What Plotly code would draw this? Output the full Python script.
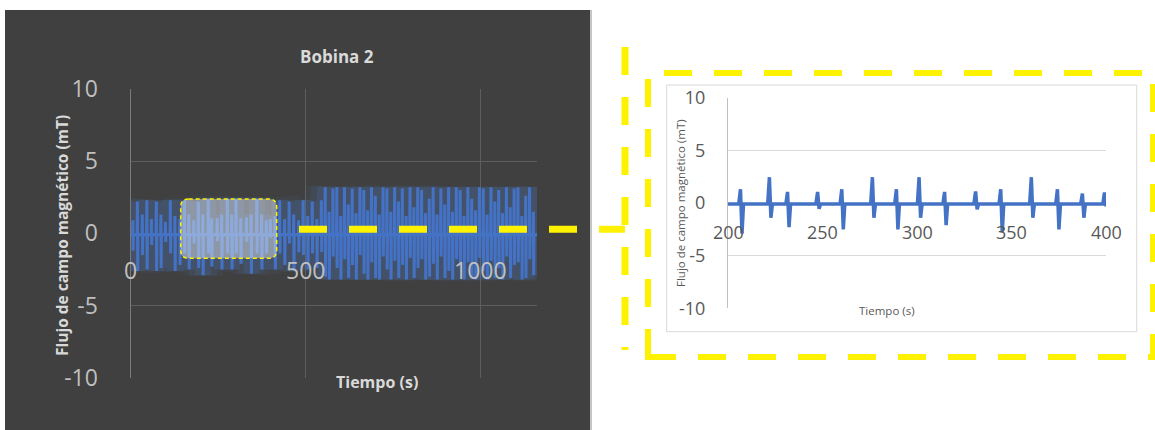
import plotly.graph_objects as go

W, H = 1155, 430

# ---------------- data ----------------
spike_time = [
    7, 20, 34, 47, 60, 74, 87, 100, 114, 127, 141, 154, 167, 181, 194,
    206.9, 222.2, 231.8, 247.7, 260.5, 276.7, 289.4, 301.4, 314.9, 331.3,
    344.6, 360.8, 374.6, 387.8, 399.5,
    413, 426, 440, 453, 466, 480, 493, 506, 519, 532, 545,
    556, 567, 578, 589, 600, 611, 622, 633, 644, 655, 666, 677, 688, 699,
    710, 721, 732, 743, 754, 765, 776, 787, 798, 809, 820, 831, 842, 853,
    864, 875, 886, 897, 908, 919, 930, 941, 952, 963, 974, 985, 996, 1007,
    1018, 1029, 1040, 1051, 1062, 1073, 1084, 1095, 1106, 1117, 1128,
    1139, 1150,
]
spike_peak = [
    0.9, 2.2, 1.3, 2.3, 1.0, 2.2, 1.3, 0.8, 2.3, 1.2, 1.0, 2.3, 1.3, 0.9, 2.2,
    1.3, 2.45, 1.05, 1.05, 1.3, 2.45, 1.3, 2.45, 1.05, 1.1, 1.3, 2.45, 1.3,
    0.9, 1.0,
    1.2, 2.3, 1.0, 2.2, 1.3, 0.9, 2.3, 1.2, 2.2, 1.0, 2.3,
    3.2, 1.5, 3.1, 3.2, 1.2, 3.2, 2.0, 3.1, 1.4, 3.2, 3.0, 1.6, 3.2, 2.6,
    1.3, 3.2, 3.1, 1.5, 3.2, 2.2, 3.1, 1.2, 3.2, 1.8, 3.2, 3.0, 1.4, 2.4,
    3.2, 1.3, 3.1, 2.0, 3.2, 1.5, 3.2, 3.0, 1.2, 3.2, 2.4, 1.6, 3.2, 3.1,
    1.3, 3.2, 2.2, 3.0, 1.4, 3.2, 1.8, 3.1, 3.2, 1.2, 2.6, 3.2, 1.5,
]
spike_trough = [
    -1.2, -2.6, -1.5, -2.5, -0.8, -2.6, -2.4, -0.6, -1.4, -2.6, -2.2, -1.4,
    -2.5, -0.7, -2.4,
    -2.9, -1.4, -2.3, -0.55, -2.5, -1.4, -2.5, -1.4, -2.1, -0.6, -2.8, -1.4,
    -2.5, -1.4, -0.3,
    -2.5, -1.4, -2.2, -0.7, -2.6, -1.3, -1.5, -2.5, -1.4, -2.4, -1.3,
    -3.0, -3.2, -1.6, -2.4, -3.2, -1.8, -3.1, -2.2, -3.2, -1.5, -2.8, -3.2,
    -2.0, -3.1, -3.2, -1.6, -2.5, -3.2, -1.9, -3.1, -2.2, -3.2, -1.7, -3.1,
    -2.4, -1.8, -3.2, -3.0, -2.1, -3.2, -1.6, -3.1, -2.6, -3.2, -1.8, -2.3,
    -3.2, -2.0, -3.1, -3.2, -1.7, -2.6, -3.2, -1.9, -3.1, -2.4, -3.2, -1.6,
    -3.1, -2.2, -2.0, -3.2, -3.1, -1.8, -2.9,
]
baseline_level = -0.1
record_end = 1160

main_title = "Bobina 2"
y_title = "Flujo de campo magnético (mT)"
x_title = "Tiempo (s)"
y_ticks = [-10, -5, 0, 5, 10]
main_x_ticks = [0, 500, 1000]
zoom_x_ticks = [200, 250, 300, 350, 400]
main_x_range = [0, 1160]
zoom_x_range = [200, 400]
y_range = [-10, 10]

assert len(spike_time) == len(spike_peak) == len(spike_trough)

# ---------------- helpers ----------------
def px(x):
    return x / W


def py(y):
    return 1 - y / H


# bipolar pulse shape around each recorded spike
xs, ys = [0], [baseline_level]
for t, p, q in zip(spike_time, spike_peak, spike_trough):
    xs += [t - 1.2, t - 0.3, t + 0.5, t + 1.3]
    ys += [baseline_level, p, q, baseline_level]
xs.append(record_end)
ys.append(baseline_level)

BLUE = "#4472C4"
YEL = "#fff200"
FONT = "Open Sans"

fig = go.Figure()
# soft glow of the main series
for w, a in [(40, 0.07), (28, 0.10), (16, 0.16)]:
    fig.add_trace(go.Scatter(x=xs, y=ys, mode="lines", xaxis="x", yaxis="y",
                             line=dict(color=f"rgba(80,125,205,{a})", width=w),
                             hoverinfo="skip"))
fig.add_trace(go.Scatter(x=xs, y=ys, mode="lines", xaxis="x", yaxis="y",
                         line=dict(color=BLUE, width=3)))
# zoomed view
fig.add_trace(go.Scatter(x=xs, y=ys, mode="lines", xaxis="x2", yaxis="y2",
                         line=dict(color=BLUE, width=3.5)))

fig.update_layout(
    width=W, height=H, autosize=False,
    margin=dict(l=0, r=0, t=0, b=0, pad=0, autoexpand=False),
    paper_bgcolor="white", plot_bgcolor="rgba(0,0,0,0)",
    showlegend=False,
    font=dict(family=FONT),
    xaxis=dict(domain=[px(130.5), px(537)], range=main_x_range,
               tickvals=main_x_ticks, showticklabels=False,
               showgrid=True, gridcolor="#5e5e5e", gridwidth=1,
               zeroline=False, showline=False, anchor="y", fixedrange=True,
               automargin=False),
    yaxis=dict(domain=[py(377.7), py(89)], range=y_range,
               tickvals=y_ticks, ticktext=[str(v) for v in y_ticks],
               tickfont=dict(size=23, color="#bfbfbf", family=FONT),
               ticklabelstandoff=27,
               showgrid=True, gridcolor="#5e5e5e", gridwidth=1,
               zeroline=False, showline=True, linecolor="#7a7a7a",
               anchor="x", fixedrange=True, automargin=False),
    xaxis2=dict(domain=[px(728), px(1106)], range=zoom_x_range,
                tickvals=zoom_x_ticks, showticklabels=False, showgrid=False,
                zeroline=False, showline=False, anchor="y2", fixedrange=True,
                automargin=False),
    yaxis2=dict(domain=[py(308.3), py(97.7)], range=y_range,
                tickvals=y_ticks, ticktext=[str(v) for v in y_ticks],
                tickfont=dict(size=18, color="#595959", family=FONT),
                ticklabelstandoff=18,
                showgrid=True, gridcolor="#d9d9d9", gridwidth=1,
                zeroline=False, showline=True, linecolor="#bfbfbf",
                anchor="x2", fixedrange=True, automargin=False),
)

# rounded highlight rectangle (pixel coords -> paper)
hx0, hx1, hy0, hy1, r = 180.7, 276.7, 199, 258.3, 8
pts = [
    ("M", hx0 + r, hy0), ("L", hx1 - r, hy0), ("Q", hx1, hy0, hx1, hy0 + r),
    ("L", hx1, hy1 - r), ("Q", hx1, hy1, hx1 - r, hy1), ("L", hx0 + r, hy1),
    ("Q", hx0, hy1, hx0, hy1 - r), ("L", hx0, hy0 + r),
    ("Q", hx0, hy0, hx0 + r, hy0),
]
path = ""
for p in pts:
    cmd = p[0]
    coords = p[1:]
    pairs = []
    for i in range(0, len(coords), 2):
        pairs.append(f"{px(coords[i]):.5f},{py(coords[i + 1]):.5f}")
    path += cmd + " " + " ".join(pairs) + " "
path += "Z"

shapes = [
    dict(type="rect", xref="paper", yref="paper", x0=px(5), x1=px(590),
         y0=py(430), y1=py(10), fillcolor="#404040", line=dict(width=0),
         layer="below"),
    dict(type="line", xref="paper", yref="paper", x0=px(591), x1=px(591),
         y0=py(430), y1=py(10), line=dict(color="#b0b0b0", width=1.5),
         layer="below"),
    dict(type="rect", xref="paper", yref="paper", x0=px(666.7), x1=px(1136.7),
         y0=py(331.7), y1=py(85), fillcolor="white",
         line=dict(color="#d9d9d9", width=1), layer="below"),
    dict(type="path", xref="paper", yref="paper", path=path,
         fillcolor="rgba(255,255,255,0.4)",
         line=dict(color=YEL, width=1.5, dash="4px,3px"), layer="above"),
    dict(type="rect", xref="paper", yref="paper", x0=px(648), x1=px(1153),
         y0=py(357), y1=py(73), fillcolor="rgba(0,0,0,0)",
         line=dict(color=YEL, width=6, dash="28px,22px"), layer="above"),
    dict(type="line", xref="paper", yref="paper", x0=px(625), x1=px(625),
         y0=py(47), y1=py(350), line=dict(color=YEL, width=7, dash="28px,22px"),
         layer="above"),
    dict(type="line", xref="paper", yref="paper", x0=px(299), x1=px(625),
         y0=py(229.3), y1=py(229.3),
         line=dict(color=YEL, width=7, dash="28px,22px"), layer="above"),
]
fig.update_layout(shapes=shapes)

ann = [
    dict(xref="paper", yref="paper", x=px(297.7), y=py(43.3),
         text=f"<b>{main_title}</b>", showarrow=False,
         font=dict(size=17, color="#d9d9d9", family=FONT)),
    dict(xref="paper", yref="paper", x=px(49), y=py(236), textangle=-90,
         text=f"<b>{y_title}</b>", showarrow=False,
         font=dict(size=15.5, color="#d9d9d9", family=FONT)),
    dict(xref="paper", yref="paper", x=px(334), y=py(395),
         text=f"<b>{x_title}</b>", showarrow=False,
         font=dict(size=16, color="#d9d9d9", family=FONT)),
    dict(xref="paper", yref="paper", x=px(680), y=py(203), textangle=-90,
         text=y_title, showarrow=False,
         font=dict(size=11.5, color="#595959", family=FONT)),
    dict(xref="paper", yref="paper", x=px(917), y=py(320),
         text=x_title, showarrow=False,
         font=dict(size=11.5, color="#595959", family=FONT)),
]
for v in main_x_ticks:
    ann.append(dict(xref="x", yref="y", x=v, y=0, yshift=-36.7, text=str(v),
                    showarrow=False,
                    font=dict(size=23, color="#c0c0c0", family=FONT)))
for v in zoom_x_ticks:
    ann.append(dict(xref="x2", yref="y2", x=v, y=0, yshift=-29.3, text=str(v),
                    showarrow=False,
                    font=dict(size=18, color="#595959", family=FONT)))
fig.update_layout(annotations=ann)

fig.write_html(
    "out.html",
    config={"displayModeBar": False, "staticPlot": True},
    post_script="document.body.style.margin='0';"
                "document.body.style.overflow='hidden';",
)
